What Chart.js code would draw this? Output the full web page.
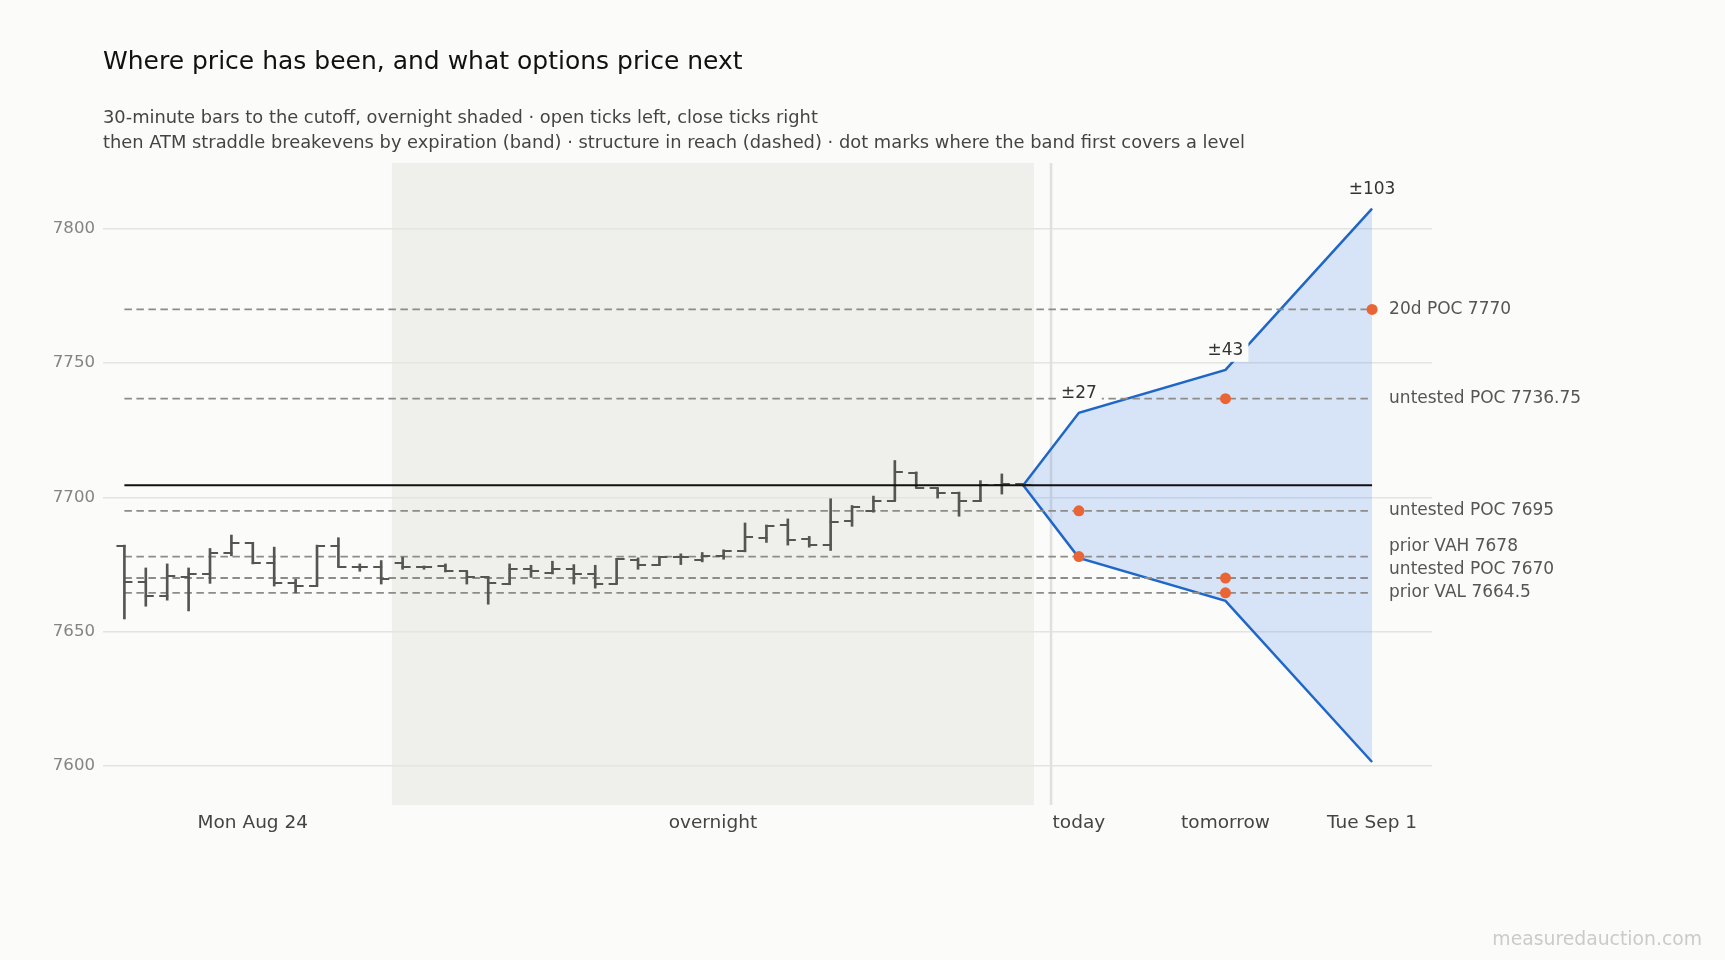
<!DOCTYPE html>
<html>
<head>
<meta charset="utf-8">
<script src="https://cdn.jsdelivr.net/npm/chart.js@4.4.1/dist/chart.umd.min.js"></script>
<style>
  html, body { margin: 0; padding: 0; background: #fbfbf9; }
  #wrap { width: 1725px; height: 960px; }
</style>
</head>
<body>
<div id="wrap"><canvas id="grafico" width="1725" height="960"></canvas></div>
<script>
// 30-minute bars: Mon Aug 24 session, then the overnight up to the cutoff
const barOpen  = [7682, 7668.5, 7663.25, 7670.5, 7671.5, 7679.25, 7683, 7675.75, 7668, 7667, 7682, 7674, 7674,
                  7675.75, 7674.25, 7674.5, 7672.5, 7670.5, 7667.75, 7673.5, 7672, 7673.25, 7671.5, 7667.75, 7676.75,
                  7674.75, 7677.75, 7676.75, 7678.25, 7680, 7684.75, 7689.75, 7684.5, 7682.25, 7691.25, 7695,
                  7698.75, 7709, 7703.5, 7701.75, 7698.75, 7704.75, 7705];
const barHigh  = [7682.25, 7673.75, 7675.25, 7673.75, 7681, 7686, 7683.25, 7681.5, 7669.5, 7682.25, 7685, 7675.25, 7676.5,
                  7677.75, 7674.5, 7675.25, 7672.5, 7670.5, 7675.25, 7674.75, 7676.25, 7675, 7674.75, 7677.25, 7677.5,
                  7678, 7679, 7679.5, 7680.5, 7690.5, 7689.75, 7692, 7685.5, 7699.5, 7697, 7700.5,
                  7713.75, 7709.5, 7703.5, 7702, 7706.25, 7708.75, 7705.25];
const barLow   = [7654.75, 7659.5, 7661.75, 7657.75, 7668, 7678.25, 7675.25, 7667, 7664.5, 7667, 7674, 7672.5, 7667.75,
                  7673.25, 7673.25, 7672.25, 7667.75, 7660.25, 7667.5, 7670.25, 7671.5, 7667.75, 7666.25, 7667.75, 7673.25,
                  7674.75, 7675, 7676, 7677, 7679.75, 7683.25, 7682.25, 7681.5, 7680.25, 7689.25, 7694.5,
                  7698.75, 7703.5, 7699.75, 7693, 7698.5, 7701.25, 7704.25];
const barClose = [7668.5, 7663.25, 7670.75, 7671.5, 7679.25, 7683, 7675.75, 7668, 7667, 7682, 7674, 7674, 7669.5,
                  7674, 7674.25, 7672.5, 7670.5, 7668, 7673.5, 7672.5, 7673.25, 7671.5, 7667.75, 7677.25, 7675,
                  7677.75, 7677.75, 7678.25, 7680, 7685.25, 7689.5, 7684.25, 7682.25, 7691, 7696.5, 7698.75,
                  7709.5, 7703.5, 7701.75, 7698.5, 7704.75, 7705, 7704.5];
const sessionNames = ['Mon Aug 24', 'overnight'];
const sessionStart = [0, 13];
const lastPrice = 7704.5;

// ATM straddle by expiration
const expiryNames = ['today', 'tomorrow', 'Tue Sep 1'];
const expiryX = [44.6, 51.45, 58.3];
const straddle = [27, 43, 103];

// structure levels and the expiration whose band first covers each one
const levelValues = [7770, 7736.75, 7695, 7678, 7670, 7664.5];
const levelNames = ['20d POC', 'untested POC', 'untested POC', 'prior VAH', 'untested POC', 'prior VAL'];
const levelFirstExpiry = [2, 1, 0, 0, 1, 1];

const yTicks = [7600, 7650, 7700, 7750, 7800];

const titulo = 'Where price has been, and what options price next';
const subtitulo = [
  '30-minute bars to the cutoff, overnight shaded \u00b7 open ticks left, close ticks right',
  'then ATM straddle breakevens by expiration (band) \u00b7 structure in reach (dashed) \u00b7 dot marks where the band first covers a level'
];
const marca = 'measuredauction.com';

const FONTE = "'DejaVu Sans', sans-serif";
const corFundo = '#fbfbf9';
const corBarra = '#555552';
const corAzul = '#1f66c6';
const corLaranja = '#ea6535';

Chart.defaults.font.family = FONTE;

const ultimo = barClose.length - 1;
const corteX = (ultimo + expiryX[0]) / 2;

// x ticks: centre of each session, then the expirations
const sessionEnd = sessionStart.map((s, i) => i + 1 < sessionStart.length ? sessionStart[i + 1] - 1 : ultimo);
const xTickValues = sessionStart.map((s, i) => (s + sessionEnd[i]) / 2).concat(expiryX);
const xTickLabels = sessionNames.concat(expiryNames);

function imagemTique(lado) {
  const c = document.createElement('canvas');
  c.width = 18;
  c.height = 2;
  const g = c.getContext('2d');
  g.fillStyle = corBarra;
  if (lado === 'esq') g.fillRect(1, 0, 9, 2);
  else g.fillRect(8, 0, 9, 2);
  return c;
}

const bandaX = [ultimo].concat(expiryX);
const bandaSup = [lastPrice].concat(straddle.map(s => lastPrice + s));
const bandaInf = [lastPrice].concat(straddle.map(s => lastPrice - s));
const fimX = expiryX[expiryX.length - 1];

const datasets = [
  {
    type: 'line', data: levelValues.map((v, i) => ({ x: expiryX[levelFirstExpiry[i]], y: v })),
    showLine: false, pointRadius: 5.5, pointHoverRadius: 5.5, pointBackgroundColor: corLaranja,
    pointBorderWidth: 0, order: 0
  },
  {
    type: 'line', data: [{ x: 0, y: lastPrice }, { x: fimX, y: lastPrice }],
    borderColor: '#111111', borderWidth: 2, pointRadius: 0, order: 1
  },
  {
    type: 'bar', data: barHigh.map((h, i) => ({ x: i, y: [barLow[i], h] })),
    backgroundColor: corBarra, barThickness: 2, grouped: false, order: 2
  },
  {
    type: 'line', data: barOpen.map((o, i) => ({ x: i, y: o })), showLine: false,
    pointStyle: imagemTique('esq'), pointRadius: 9, order: 2
  },
  {
    type: 'line', data: barClose.map((c, i) => ({ x: i, y: c })), showLine: false,
    pointStyle: imagemTique('dir'), pointRadius: 9, order: 2
  }
];

levelValues.forEach(v => {
  datasets.push({
    type: 'line', data: [{ x: 0, y: v }, { x: fimX, y: v }],
    borderColor: '#8c8c88', borderWidth: 1.8, borderDash: [7.5, 4.5], pointRadius: 0, order: 4
  });
});

datasets.push({
  type: 'line', data: bandaX.map((x, i) => ({ x, y: bandaSup[i] })),
  borderColor: corAzul, borderWidth: 2.5, pointRadius: 0, tension: 0,
  fill: '+1', backgroundColor: 'rgba(40, 120, 235, 0.17)', order: 6
});
datasets.push({
  type: 'line', data: bandaX.map((x, i) => ({ x, y: bandaInf[i] })),
  borderColor: corAzul, borderWidth: 2.5, pointRadius: 0, tension: 0, fill: false, order: 6
});

const fundo = {
  id: 'fundo',
  beforeDraw(chart) {
    const { ctx, chartArea, scales } = chart;
    ctx.save();
    ctx.fillStyle = corFundo;
    ctx.fillRect(0, 0, chart.width, chart.height);
    const x0 = scales.x.getPixelForValue(sessionStart[1] - 0.5);
    const x1 = scales.x.getPixelForValue(ultimo + 0.5);
    ctx.fillStyle = '#efefeb';
    ctx.fillRect(x0, chartArea.top, x1 - x0, chartArea.bottom - chartArea.top);
    ctx.restore();
  },
  beforeDatasetsDraw(chart) {
    const { ctx, chartArea, scales } = chart;
    const xc = scales.x.getPixelForValue(corteX);
    ctx.save();
    ctx.strokeStyle = '#e0e0dc';
    ctx.lineWidth = 2.5;
    ctx.beginPath();
    ctx.moveTo(xc, chartArea.top);
    ctx.lineTo(xc, chartArea.bottom);
    ctx.stroke();
    ctx.restore();
  }
};

const rotulos = {
  id: 'rotulos',
  afterDatasetsDraw(chart) {
    const { ctx, scales } = chart;
    const xs = scales.x, ys = scales.y;
    ctx.save();

    // level names at the right, pushed apart from the bottom up
    ctx.font = '17px ' + FONTE;
    ctx.fillStyle = '#555555';
    ctx.textAlign = 'left';
    ctx.textBaseline = 'middle';
    const xr = xs.getPixelForValue(fimX) + 17;
    const idx = levelValues.map((v, i) => i).sort((a, b) => levelValues[a] - levelValues[b]);
    let anterior = Infinity;
    idx.forEach(i => {
      const p = Math.min(ys.getPixelForValue(levelValues[i]), anterior - 23);
      ctx.fillText(levelNames[i] + ' ' + levelValues[i], xr, p);
      anterior = p;
    });

    // straddle size above the band
    ctx.font = '17px ' + FONTE;
    ctx.textAlign = 'center';
    straddle.forEach((s, k) => {
      const px = xs.getPixelForValue(expiryX[k]);
      const py = ys.getPixelForValue(lastPrice + s) - 19;
      const txt = '\u00b1' + s;
      const w = ctx.measureText(txt).width + 10;
      ctx.fillStyle = corFundo;
      ctx.fillRect(px - w / 2, py - 11, w, 22);
      ctx.fillStyle = '#333333';
      ctx.fillText(txt, px, py);
    });
    ctx.restore();
  },
  afterDraw(chart) {
    const { ctx } = chart;
    ctx.save();
    ctx.font = '18.8px ' + FONTE;
    ctx.fillStyle = '#cbcbc9';
    ctx.textAlign = 'right';
    ctx.textBaseline = 'middle';
    ctx.fillText(marca, chart.width - 23, 940);
    ctx.restore();
  }
};

new Chart(document.getElementById('grafico'), {
  type: 'line',
  data: { datasets },
  options: {
    responsive: false,
    animation: false,
    events: [],
    layout: { padding: { top: 0, left: 0, right: 293, bottom: 115 } },
    scales: {
      x: {
        type: 'linear', min: -1, max: fimX + 2.8, offset: false,
        grid: { display: false, drawTicks: false },
        border: { display: false },
        afterBuildTicks: s => { s.ticks = xTickValues.map(v => ({ value: v })); },
        ticks: {
          autoSkip: false, maxRotation: 0, padding: 7, color: '#444444',
          font: { size: 18.5 },
          callback: (v, i) => xTickLabels[i]
        },
        afterFit: s => { s.height = 40; }
      },
      y: {
        min: 7585.5, max: 7824.5,
        grid: { color: '#e4e4e1', lineWidth: 1.5, drawTicks: false },
        border: { display: false },
        afterBuildTicks: s => { s.ticks = yTicks.map(v => ({ value: v })); },
        ticks: { padding: 8, color: '#858580', font: { size: 16.6 }, callback: v => String(v) },
        afterFit: s => { s.width = 103; }
      }
    },
    plugins: {
      legend: { display: false },
      tooltip: { enabled: false },
      title: {
        display: true, text: titulo, align: 'start', fullSize: false, color: '#111111',
        font: { size: 25, weight: 'normal', lineHeight: 1.2 },
        padding: { top: 47, bottom: 0 }
      },
      subtitle: {
        display: true, text: subtitulo, align: 'start', fullSize: false, color: '#444444',
        font: { size: 17.85, weight: 'normal', lineHeight: 25.3 / 17.85 },
        padding: { top: 28.6, bottom: 6.8 }
      }
    }
  },
  plugins: [fundo, rotulos]
});
</script>
</body>
</html>
